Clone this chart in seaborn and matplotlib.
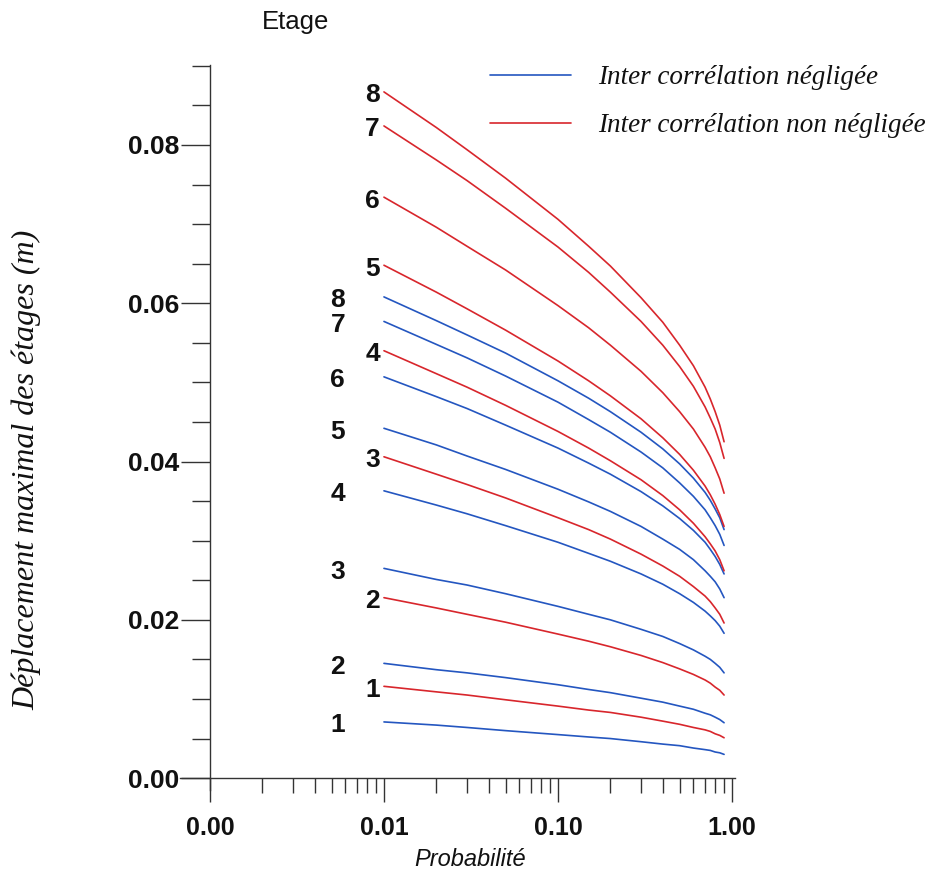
import numpy as np
import pandas as pd
import matplotlib
matplotlib.use("Agg")
import matplotlib.pyplot as plt
from matplotlib.lines import Line2D
from matplotlib.ticker import FixedLocator, MultipleLocator, FormatStrFormatter
import seaborn as sns

# probabilities at which the curves were read
prob = [0.01, 0.02, 0.03, 0.05, 0.1, 0.15, 0.2, 0.3, 0.4, 0.5, 0.6, 0.7, 0.75, 0.8, 0.85, 0.9]

# storey drift (m), inter-correlation neglected (blue)
blue = {
    1: [0.0071, 0.0067, 0.0064, 0.0060, 0.0055, 0.0052, 0.0050, 0.0046, 0.0043, 0.0041, 0.0038, 0.0036, 0.0035, 0.0033, 0.0032, 0.0030],
    2: [0.0145, 0.0137, 0.0133, 0.0127, 0.0118, 0.0112, 0.0108, 0.0101, 0.0096, 0.0091, 0.0087, 0.0082, 0.0080, 0.0077, 0.0074, 0.0070],
    3: [0.0265, 0.0251, 0.0244, 0.0233, 0.0217, 0.0207, 0.0200, 0.0188, 0.0179, 0.0170, 0.0162, 0.0154, 0.0150, 0.0145, 0.0140, 0.0133],
    4: [0.0363, 0.0345, 0.0334, 0.0319, 0.0298, 0.0284, 0.0274, 0.0258, 0.0245, 0.0233, 0.0222, 0.0211, 0.0205, 0.0199, 0.0192, 0.0183],
    5: [0.0442, 0.0421, 0.0407, 0.0390, 0.0365, 0.0349, 0.0337, 0.0318, 0.0302, 0.0289, 0.0276, 0.0262, 0.0255, 0.0248, 0.0239, 0.0228],
    6: [0.0507, 0.0482, 0.0467, 0.0446, 0.0417, 0.0398, 0.0384, 0.0362, 0.0344, 0.0328, 0.0313, 0.0298, 0.0289, 0.0280, 0.0270, 0.0258],
    7: [0.0577, 0.0548, 0.0531, 0.0508, 0.0475, 0.0453, 0.0437, 0.0412, 0.0392, 0.0373, 0.0356, 0.0339, 0.0329, 0.0319, 0.0308, 0.0294],
    8: [0.0608, 0.0578, 0.0560, 0.0537, 0.0502, 0.0480, 0.0463, 0.0437, 0.0416, 0.0397, 0.0379, 0.0361, 0.0351, 0.0340, 0.0329, 0.0314],
}

# storey drift (m), inter-correlation not neglected (red)
red = {
    1: [0.0116, 0.0109, 0.0105, 0.0099, 0.0091, 0.0086, 0.0083, 0.0077, 0.0072, 0.0068, 0.0064, 0.0061, 0.0059, 0.0056, 0.0054, 0.0051],
    2: [0.0228, 0.0215, 0.0207, 0.0197, 0.0182, 0.0173, 0.0166, 0.0155, 0.0146, 0.0138, 0.0131, 0.0124, 0.0120, 0.0115, 0.0111, 0.0105],
    3: [0.0406, 0.0384, 0.0371, 0.0354, 0.0329, 0.0314, 0.0302, 0.0283, 0.0268, 0.0255, 0.0242, 0.0230, 0.0223, 0.0215, 0.0207, 0.0196],
    4: [0.0540, 0.0511, 0.0494, 0.0471, 0.0438, 0.0417, 0.0401, 0.0377, 0.0357, 0.0339, 0.0322, 0.0305, 0.0296, 0.0287, 0.0276, 0.0262],
    5: [0.0648, 0.0614, 0.0593, 0.0566, 0.0527, 0.0502, 0.0483, 0.0454, 0.0430, 0.0409, 0.0389, 0.0369, 0.0358, 0.0346, 0.0333, 0.0318],
    6: [0.0734, 0.0696, 0.0672, 0.0642, 0.0597, 0.0569, 0.0547, 0.0514, 0.0487, 0.0463, 0.0441, 0.0418, 0.0406, 0.0392, 0.0378, 0.0360],
    7: [0.0824, 0.0781, 0.0755, 0.0720, 0.0671, 0.0639, 0.0614, 0.0577, 0.0547, 0.0520, 0.0495, 0.0469, 0.0455, 0.0441, 0.0424, 0.0404],
    8: [0.0867, 0.0822, 0.0794, 0.0758, 0.0706, 0.0672, 0.0647, 0.0607, 0.0576, 0.0547, 0.0521, 0.0494, 0.0479, 0.0463, 0.0446, 0.0425],
}

lab_blue = "Inter corrélation négligée"
lab_red = "Inter corrélation non négligée"
xtick_vals = [0.001, 0.01, 0.1, 1.0]
xtick_labels = ["0.00", "0.01", "0.10", "1.00"]
ytick_vals = [0.0, 0.02, 0.04, 0.06, 0.08]

rows = []
for case, dd in [(lab_blue, blue), (lab_red, red)]:
    for et, vals in dd.items():
        for p, v in zip(prob, vals):
            rows.append((case, et, p, v))
df = pd.DataFrame(rows, columns=["case", "etage", "prob", "disp"])

sns.set_style("ticks")
plt.rcParams["font.family"] = ["Liberation Sans", "DejaVu Sans"]

col_blue = "#2456c0"
col_red = "#d8262c"
axcol = "#333333"
serif_it = {"family": ["Liberation Serif"], "style": "italic"}

fig = plt.figure(figsize=(9.34, 8.76), dpi=100)
fig.patch.set_facecolor("white")
ax = fig.add_axes([180 / 934, 86 / 876, 555 / 934, 725 / 876])

sns.lineplot(data=df, x="prob", y="disp", hue="case", units="etage",
             estimator=None, palette={lab_blue: col_blue, lab_red: col_red},
             linewidth=1.2, legend=False, ax=ax)

ax.set_xscale("log")
ax.set_xlim(0.000673, 1.04)
ax.set_ylim(-0.0015, 0.0901)

for s in ["top", "right"]:
    ax.spines[s].set_visible(False)
ax.spines["left"].set_position(("data", 0.001))
ax.spines["bottom"].set_position(("data", 0.0))
for s in ["left", "bottom"]:
    ax.spines[s].set_color(axcol)
    ax.spines[s].set_linewidth(1.0)

ax.xaxis.set_major_locator(FixedLocator(xtick_vals))
ax.set_xticklabels(xtick_labels)
minor_x = [m * 10.0 ** e for e in (-3, -2, -1) for m in range(2, 10)]
ax.xaxis.set_minor_locator(FixedLocator(minor_x))
ax.yaxis.set_major_locator(FixedLocator(ytick_vals))
ax.yaxis.set_major_formatter(FormatStrFormatter("%.2f"))
ax.yaxis.set_minor_locator(MultipleLocator(0.005))

ax.tick_params(axis="y", which="major", length=21, width=1.0, color=axcol, pad=1,
               labelsize=19)
ax.tick_params(axis="y", which="minor", length=13, width=1.0, color=axcol)
ax.tick_params(axis="x", which="major", length=17, width=1.0, color=axcol, pad=10,
               labelsize=18)
ax.tick_params(axis="x", which="minor", length=11, width=1.0, color=axcol)
for t in ax.get_xticklabels() + ax.get_yticklabels():
    t.set_fontweight("bold")
    t.set_color("#111111")

ax.set_xlabel("Probabilité", fontsize=17, style="italic", color="#111111")
ax.xaxis.set_label_coords(0.5225, -0.080)
ax.set_ylabel("Déplacement maximal des étages (m)", fontsize=23, color="#111111",
              **serif_it)
ax.yaxis.set_label_coords(-0.249, 0.441)

# curve numbers at the start of every line
for dd, dx in [(blue, -28), (red, -3)]:
    for et, vals in dd.items():
        ax.annotate(str(et), (prob[0], vals[0]), xytext=(dx, -2.5),
                    textcoords="offset points", ha="right", va="center",
                    fontsize=19, fontweight="bold", color="#111111")

fig.text(296 / 934, 1 - 22 / 876, "Etage", ha="center", va="center", fontsize=18.5,
         color="#111111")

handles = [Line2D([], [], color=col_blue, lw=1.2), Line2D([], [], color=col_red, lw=1.2)]
ax.legend(handles, [lab_blue, lab_red], loc="upper left",
          bbox_to_anchor=(490 / 934, 1 - 65 / 876), bbox_transform=fig.transFigure,
          frameon=False, handlelength=3.0, handletextpad=1.0, labelspacing=0.86,
          borderpad=0, borderaxespad=0, labelcolor="#111111",
          prop={**serif_it, "size": 19.5})

fig.savefig("out.png", dpi=100, facecolor="white")
